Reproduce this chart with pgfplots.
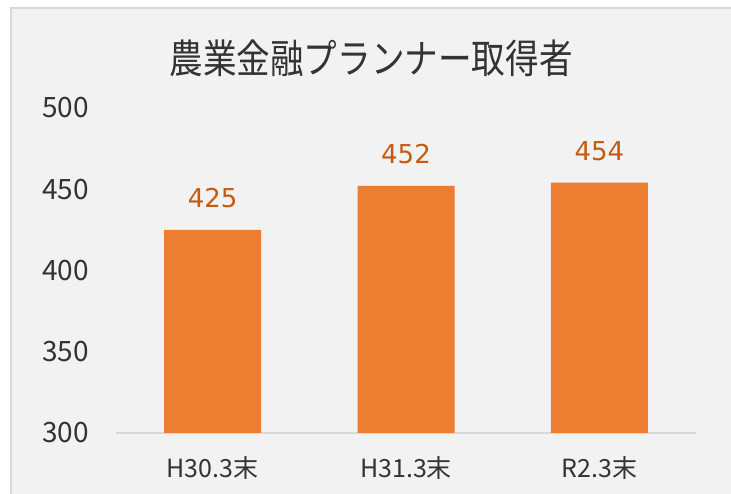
\documentclass[border=0pt]{standalone}
\usepackage{pgfplots}
\pgfplotsset{compat=1.18}
\usepackage{fontspec}
\setmainfont{Noto Sans CJK JP}
\newfontfamily\titlefont[FakeStretch=0.84]{Noto Sans CJK JP}
\newfontfamily\dejavu{DejaVu Sans}
\definecolor{barorange}{HTML}{ED7D31}
\definecolor{lblorange}{HTML}{C55A11}
\definecolor{bg}{HTML}{F2F2F2}
\definecolor{bordergray}{HTML}{D9D9D9}
\definecolor{txt}{HTML}{333333}
\begin{document}
\begin{tikzpicture}[x=1pt,y=1pt]
\useasboundingbox (0,0) rectangle (731,494);
\fill[white] (0,0) rectangle (731,494);
\fill[bg] (10,0) rectangle (731,486);
\draw[bordergray, line width=2pt] (11,0) -- (11,485.5) -- (731,485.5);
\node[font=\titlefont\fontsize{40}{40}\selectfont, color=txt, anchor=base] at (371,420) {農業金融プランナー取得者};
\begin{axis}[
  at={(116pt,61pt)}, anchor=south west, scale only axis,
  width=580pt, height=325pt,
  xmin=-0.5, xmax=2.5, ymin=300, ymax=500,
  ytick={300,350,400,450,500},
  xtick={0,1,2}, xticklabels={H30.3末,H31.3末,R2.3末},
  /pgf/number format/assume math mode=true,
  separate axis lines,
  axis x line*=bottom, axis y line*=left,
  y axis line style={draw=none},
  x axis line style={draw=bordergray, line width=1.5pt, -},
  major tick length=0pt,
  yticklabel style={font=\fontsize{28}{28}\selectfont, text=txt, anchor=east, inner sep=0pt, xshift=-27pt},
  xticklabel style={font=\fontsize{25}{25}\selectfont, text=txt, anchor=base, inner sep=0pt, yshift=-45pt},
  ybar, bar width=97pt,
  clip=false,
  nodes near coords,
  every node near coord/.append style={font=\dejavu\fontsize{26}{26}\selectfont, text=lblorange, anchor=base, inner sep=0pt, yshift=22pt},
]
\addplot[fill=barorange, draw=none] coordinates {(0,425) (1,452) (2,454)};
\end{axis}
\end{tikzpicture}
\end{document}
